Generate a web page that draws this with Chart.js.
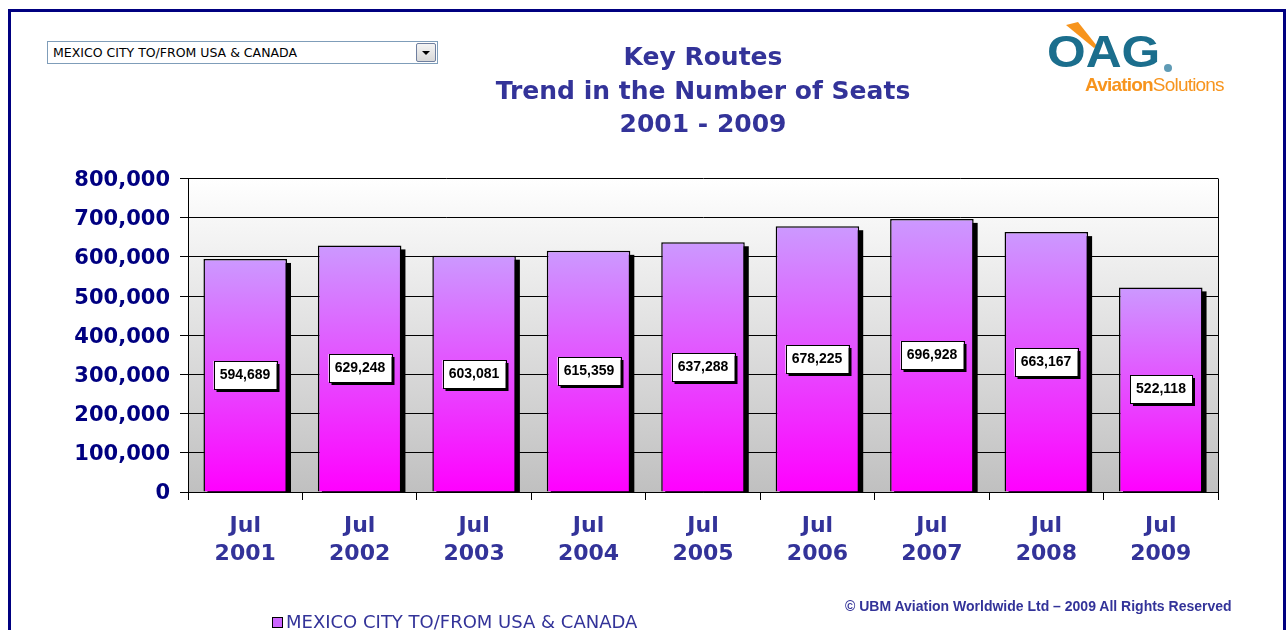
<!DOCTYPE html>
<html>
<head>
<meta charset="utf-8">
<title>Key Routes</title>
<script src="https://cdn.jsdelivr.net/npm/chart.js@4.4.0/dist/chart.umd.min.js"></script>
<style>
  html, body { margin: 0; padding: 0; background: #fff; }
  #wrap { position: relative; width: 1287px; height: 630px; overflow: hidden; background: #fff; }
  #frame { position: absolute; left: 8px; top: 9px; width: 1278px; height: 660px; border: 3px solid #000080; border-bottom: none; box-sizing: border-box; }
  #chart { position: absolute; left: 0; top: 0; }
  .select { position: absolute; left: 47px; top: 41px; width: 391px; height: 23px; border: 1px solid #7f9db9; box-sizing: border-box; background: #fff;
            font: 12.5px Tahoma, "DejaVu Sans", sans-serif; color: #000; line-height: 21px; padding-left: 5px; }
  .select .btn { position: absolute; right: 1px; top: 1px; width: 20px; height: 19px; border: 1px solid #6f7f9f; border-radius: 2px; box-sizing: border-box;
                 background: linear-gradient(#f4f4f4, #d8d8d8); }
  .select .btn:after { content: ""; position: absolute; left: 5px; top: 7px; border-left: 4px solid transparent; border-right: 4px solid transparent; border-top: 4px solid #000; }
  .logo { position: absolute; left: 1046px; top: 28px; }
  .logo .oag { position: absolute; left: 1px; top: -1px; font: bold 44px "Liberation Sans", Arial, sans-serif; color: #1b6e8d; transform: scaleX(1.13); transform-origin: 0 0; }
  .logo .reg { position: absolute; left: 118px; top: 36px; width: 8px; height: 8px; border-radius: 50%; background: #5f9bb5; }
  .logo .swoosh { position: absolute; left: 20px; top: -6px; width: 34px; height: 30px; background: #f7941d; clip-path: polygon(0 3px, 12px 0, 31px 24px, 28px 26px); }
  .logo .sub { position: absolute; left: 39px; top: 46px; font: 19px "Liberation Sans Narrow", "Liberation Sans", Arial, sans-serif; color: #f7941d; white-space: nowrap; letter-spacing: -0.8px; }
  .logo .sub b { font-weight: bold; }
  .legend { position: absolute; left: 272px; top: 611px; font: 18px "DejaVu Sans", Verdana, sans-serif; color: #333399; white-space: nowrap; }
  .legend .sw { display: inline-block; width: 9px; height: 9px; border: 1px solid #000; background: #cc66ff; margin-right: 3px; vertical-align: 0px; }
  .copy { position: absolute; left: 845px; top: 598px; font: bold 14px "Liberation Sans Narrow", "Liberation Sans", Arial, sans-serif; color: #333399; white-space: nowrap; }
</style>
</head>
<body>
<div id="wrap">
  <div id="frame"></div>
  <canvas id="chart" width="1287" height="630"></canvas>
  <div class="select" id="routeSelect"><span id="routeText"></span><div class="btn"></div></div>
  <div class="logo">
    <div class="swoosh"></div>
    <div class="oag">OAG</div>
    <div class="reg"></div>
    <div class="sub"><b>Aviation</b>Solutions</div>
  </div>
  <div class="legend"><span class="sw"></span><span id="legendText"></span></div>
  <div class="copy">© UBM Aviation Worldwide Ltd – 2009 All Rights Reserved</div>
</div>
<script>
const route = 'MEXICO CITY TO/FROM USA & CANADA';
const months = ['Jul', 'Jul', 'Jul', 'Jul', 'Jul', 'Jul', 'Jul', 'Jul', 'Jul'];
const years = ['2001', '2002', '2003', '2004', '2005', '2006', '2007', '2008', '2009'];
const seats = [594689, 629248, 603081, 615359, 637288, 678225, 696928, 663167, 522118];
const titleLines = ['Key Routes', 'Trend in the Number of Seats', '2001 - 2009'];

document.getElementById('routeText').textContent = route;
document.getElementById('legendText').textContent = route;

const fmt = v => Number(v).toLocaleString('en-US');

// plot background + right edge
const plotBg = {
  id: 'plotBg',
  beforeDraw(chart) {
    const { ctx, chartArea: a } = chart;
    const g = ctx.createLinearGradient(0, a.top, 0, a.bottom);
    g.addColorStop(0, '#ffffff');
    g.addColorStop(1, '#c0c0c0');
    ctx.save();
    ctx.fillStyle = g;
    ctx.fillRect(a.left, a.top, a.right - a.left, a.bottom - a.top);
    ctx.restore();
  },
  afterDraw(chart) {
    const { ctx, chartArea: a } = chart;
    ctx.save();
    ctx.strokeStyle = '#000';
    ctx.lineWidth = 1;
    ctx.beginPath();
    ctx.moveTo(a.right + 0.5, a.top);
    ctx.lineTo(a.right + 0.5, a.bottom);
    ctx.stroke();
    ctx.restore();
  }
};

// black drop shadow behind bars
const barShadow = {
  id: 'barShadow',
  beforeDatasetsDraw(chart) {
    const { ctx, chartArea: a } = chart;
    ctx.save();
    ctx.beginPath();
    ctx.rect(a.left, a.top, a.right - a.left, a.bottom - a.top);
    ctx.clip();
    ctx.fillStyle = '#000';
    chart.getDatasetMeta(0).data.forEach(bar => {
      ctx.fillRect(bar.x - bar.width / 2 + 4, bar.y + 4, bar.width, bar.base - bar.y);
    });
    ctx.restore();
  }
};

// value boxes in the middle of each bar
const valueBoxes = {
  id: 'valueBoxes',
  afterDatasetsDraw(chart) {
    const { ctx } = chart;
    ctx.save();
    ctx.font = 'bold 14px "Liberation Sans Narrow", "Liberation Sans", Arial, sans-serif';
    ctx.textAlign = 'center';
    ctx.textBaseline = 'middle';
    chart.getDatasetMeta(0).data.forEach((bar, i) => {
      const txt = fmt(seats[i]);
      const w = Math.round(ctx.measureText(txt).width + 12);
      const h = 28;
      const cx = Math.round(bar.x), cy = Math.round((bar.y + bar.base) / 2);
      ctx.fillStyle = '#000';
      ctx.fillRect(cx - w / 2 + 3, cy - h / 2 + 3, w, h);
      ctx.fillStyle = '#fff';
      ctx.fillRect(cx - w / 2, cy - h / 2, w, h);
      ctx.strokeStyle = '#000';
      ctx.lineWidth = 1;
      ctx.strokeRect(Math.round(cx - w / 2) + 0.5, Math.round(cy - h / 2) + 0.5, w, h);
      ctx.fillStyle = '#000';
      ctx.fillText(txt, cx, cy);
    });
    ctx.restore();
  }
};

const ctx = document.getElementById('chart');

new Chart(ctx, {
  type: 'bar',
  data: {
    labels: years.map((y, i) => [months[i], y]),
    datasets: [{
      label: route,
      data: seats,
      backgroundColor: (c) => {
        const chart = c.chart;
        const a = chart.chartArea;
        if (!a || c.type !== 'data') return '#cc66ff';
        const ys = chart.scales.y;
        const top = ys.getPixelForValue(c.raw);
        const bot = ys.getPixelForValue(0);
        const g = chart.ctx.createLinearGradient(0, top, 0, bot);
        g.addColorStop(0, '#cc99ff');
        g.addColorStop(1, '#ff00ff');
        return g;
      },
      borderColor: '#000',
      borderWidth: 1.5,
      categoryPercentage: 1,
      barPercentage: 0.73
    }]
  },
  options: {
    responsive: false,
    animation: false,
    layout: { padding: { left: 0, top: 0, right: 69, bottom: 0 } },
    scales: {
      x: {
        afterFit(s) { s.height = 138; },
        grid: { drawOnChartArea: false, color: '#000', tickLength: 8, offset: true },
        border: { color: '#000' },
        ticks: {
          color: '#333399',
          padding: 12,
          font: { family: '"DejaVu Sans", Verdana, sans-serif', size: 22, weight: 'bold', lineHeight: 1.28 }
        }
      },
      y: {
        min: 0,
        max: 800000,
        afterFit(s) { s.width = 188; },
        grid: { color: '#000', tickLength: 8 },
        border: { color: '#000' },
        ticks: {
          stepSize: 100000,
          color: '#000080',
          padding: 10,
          labelOffset: 2,
          font: { family: '"DejaVu Sans", Verdana, sans-serif', size: 21, weight: 'bold' },
          callback: v => fmt(v)
        }
      }
    },
    plugins: {
      legend: { display: false },
      tooltip: { enabled: false },
      title: {
        display: true,
        fullSize: false,
        text: titleLines,
        color: '#333399',
        padding: { top: 42, bottom: 36 },
        font: { family: '"DejaVu Sans", Verdana, sans-serif', size: 25, weight: 'bold', lineHeight: 1.34 }
      }
    }
  },
  plugins: [plotBg, barShadow, valueBoxes]
});
</script>
</body>
</html>
